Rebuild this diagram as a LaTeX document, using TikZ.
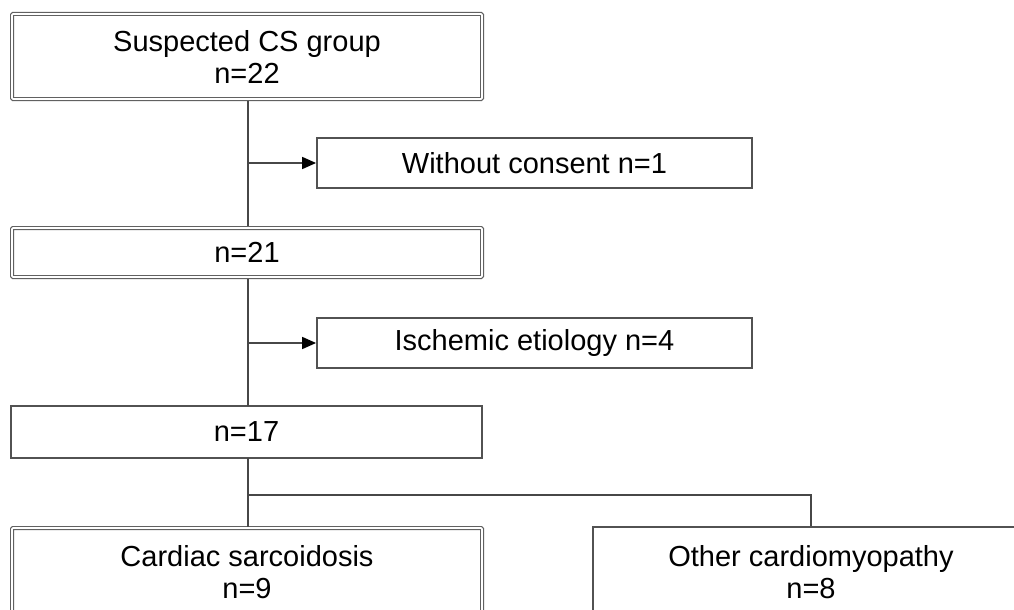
\documentclass[tikz,border=0pt]{standalone}
\usepackage{fontspec}
\setmainfont{Liberation Sans}
\usetikzlibrary{arrows.meta}
\begin{document}
\begin{tikzpicture}[x=1pt,y=-1pt,
  every node/.style={font=\fontsize{29}{32}\selectfont, align=center, inner sep=0pt},
  sbox/.style={draw=black!68, line width=1.8pt, rectangle},
  dbox/.style={draw=black!62, double=white, double distance=1.6pt, line width=1.2pt, rectangle, rounded corners=1pt},
  conn/.style={draw=black!72, line width=1.6pt},
  arr/.style={conn, -{Triangle[length=14pt,width=12pt,fill=black,color=black]}}
]
\clip (0,0) rectangle (1014,610);
\fill[white] (0,0) rectangle (1014,610);
\node[dbox, minimum width=470, minimum height=85] (b1) at (247,56.5) {Suspected CS group\\n=22};
\node[sbox, minimum width=435, minimum height=50] (bw) at (534.5,163) {Without consent n=1};
\node[dbox, minimum width=470, minimum height=49] (b2) at (247,252.5) {n=21};
\node[sbox, minimum width=435, minimum height=50] (bi) at (534.5,343) {Ischemic etiology n=4};
\node[sbox, minimum width=471, minimum height=52] (b3) at (246.5,432) {n=17};
\node[dbox, minimum width=470, minimum height=88] (b4) at (247,572) {Cardiac sarcoidosis\\n=9};
\node[sbox, minimum width=436, minimum height=90] (b5) at (811,572) {Other cardiomyopathy\\n=8};
\coordinate (j1) at (248,163);
\coordinate (j2) at (248,343);
\coordinate (j3) at (248,495);
\draw[conn] (248,101) -- (248,226);
\draw[conn] (248,279) -- (248,406);
\draw[conn] (248,458) -- (248,527);
\draw[arr] (j1) -- (bw.west);
\draw[arr] (j2) -- (bi.west);
\draw[conn] (j3) -| (b5.north);
\end{tikzpicture}
\end{document}
